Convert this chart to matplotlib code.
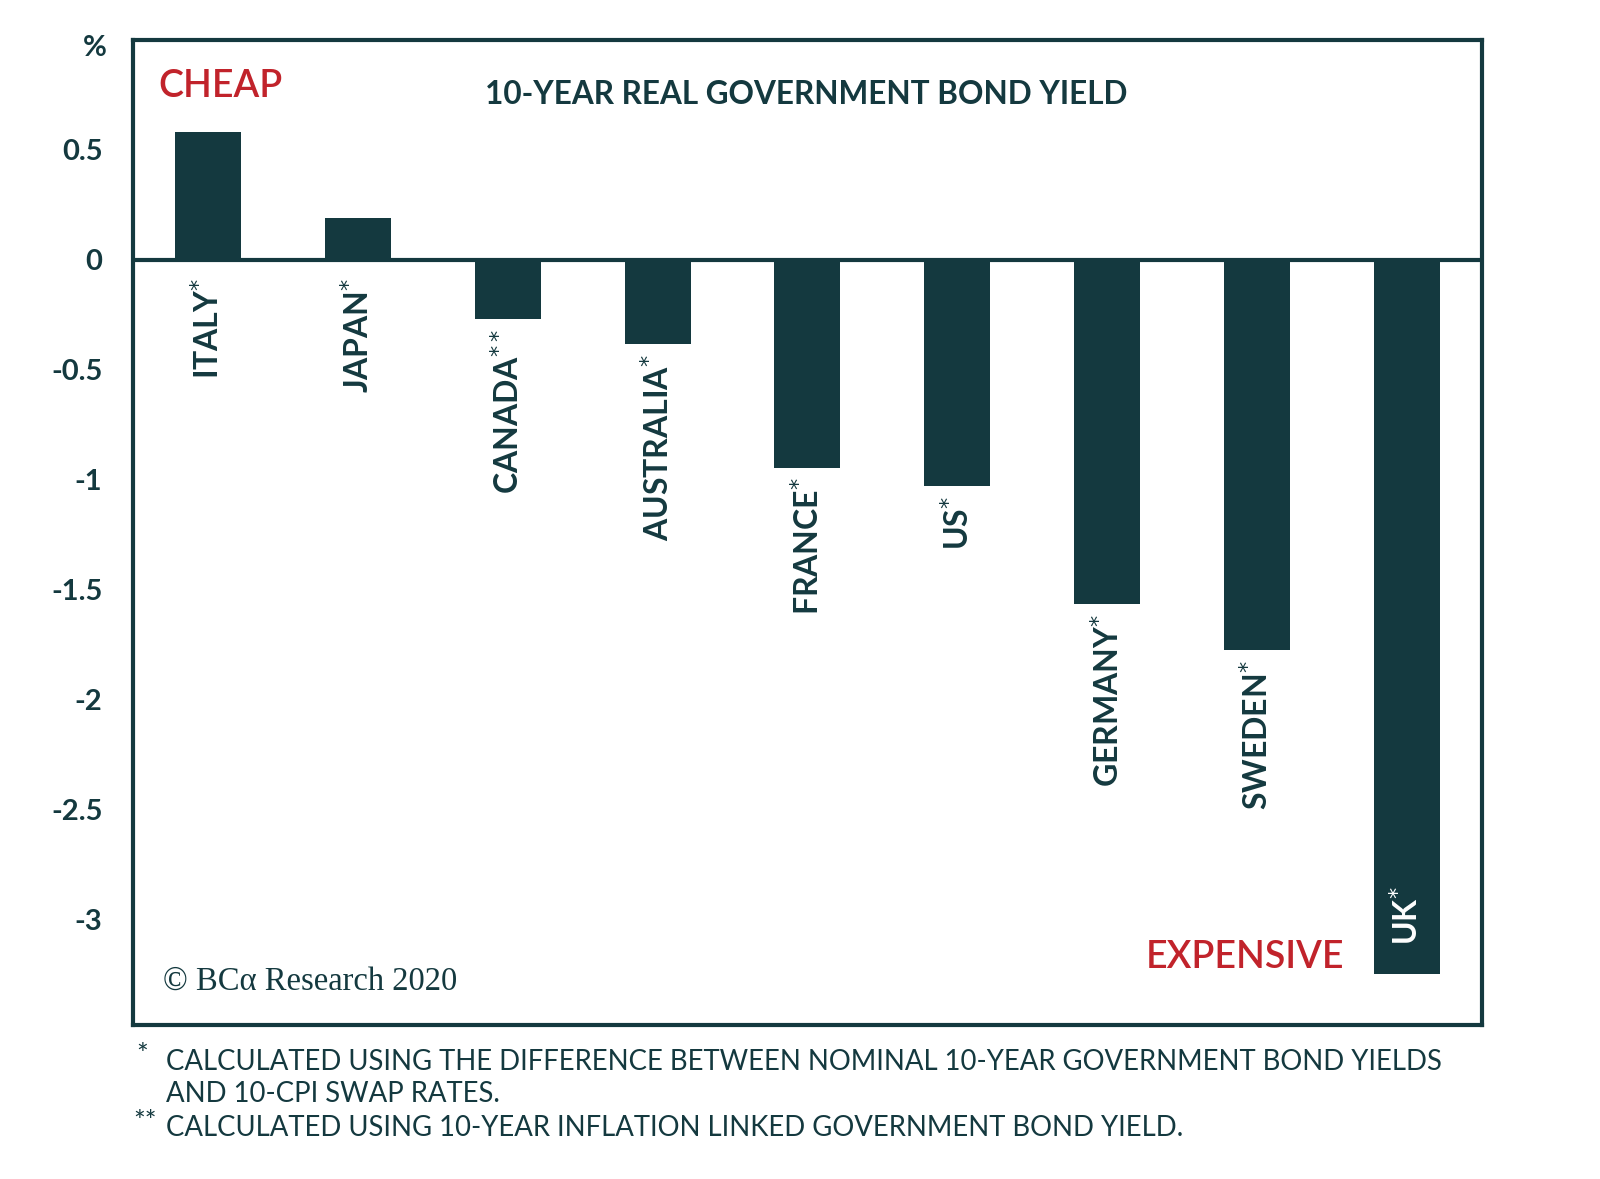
import matplotlib
matplotlib.use("Agg")
import matplotlib.pyplot as plt

# data
countries = ["ITALY", "JAPAN", "CANADA", "AUSTRALIA", "FRANCE", "US", "GERMANY", "SWEDEN", "UK"]
marks = ["*", "*", "**", "*", "*", "*", "*", "*", "*"]
yields = [0.58, 0.19, -0.27, -0.385, -0.945, -1.03, -1.565, -1.775, -3.25]
yticks = [0.5, 0, -0.5, -1, -1.5, -2, -2.5, -3]
ytick_labels = ["0.5", "0", "-0.5", "-1", "-1.5", "-2", "-2.5", "-3"]

TEAL = "#14393f"
RED = "#c1232b"

plt.rcParams["font.family"] = ["Lato", "DejaVu Sans"]

fig = plt.figure(figsize=(16, 11.79), dpi=100)
ax = fig.add_axes([0.0831, 0.1306, 0.8431, 0.8355])

x = range(len(countries))
ax.bar(x, yields, width=0.44, color=TEAL, zorder=2)
ax.axhline(0, color=TEAL, lw=3, zorder=3)

ax.set_xlim(-0.5, 8.5)
ax.set_ylim(-3.48, 1.0)
ax.set_xticks([])
ax.set_yticks(yticks)
ax.set_yticklabels(ytick_labels, fontsize=21, fontweight="bold", color=TEAL)
ax.tick_params(axis="y", length=0, pad=22)
for s in ax.spines.values():
    s.set_color(TEAL)
    s.set_linewidth(3)

# country labels, rotated
for i, (c, m, v) in enumerate(zip(countries, marks, yields)):
    txt = c + "$^{" + m + "}$"
    if c == "UK":
        ax.annotate(txt, (i, v), xytext=(0, 21), textcoords="offset points",
                    rotation=90, ha="center", va="bottom", fontsize=23,
                    fontweight="bold", color="white", zorder=4)
    else:
        base = min(v, 0)
        off = -13 if v > 0 else -7
        ax.annotate(txt, (i, base), xytext=(0, off), textcoords="offset points",
                    rotation=90, ha="center", va="top", fontsize=23,
                    fontweight="bold", color=TEAL, zorder=4)

fig.text(0.504, 0.9196, "10-YEAR REAL GOVERNMENT BOND YIELD", ha="center", va="center",
         fontsize=22.7, fontweight="bold", color=TEAL)
fig.text(0.099, 0.9265, "CHEAP", ha="left", va="center",
         fontsize=27, color=RED, fontweight="semibold")
fig.text(0.840, 0.1877, "EXPENSIVE", ha="right", va="center",
         fontsize=27, color=RED, fontweight="semibold")
fig.text(0.102, 0.1678, "© BCα Research 2020", ha="left", va="center", fontsize=23.5,
         color=TEAL, family=["Liberation Serif", "DejaVu Serif"])

fig.text(0.0593, 0.9593, "%", ha="center", va="center", fontsize=21,
         fontweight="bold", color=TEAL)

# footnotes
fn = dict(fontsize=19.8, color=TEAL, ha="left", va="center")
fig.text(0.085, 0.104, "*", **fn)
fig.text(0.104, 0.0995, "CALCULATED USING THE DIFFERENCE BETWEEN NOMINAL 10-YEAR GOVERNMENT BOND YIELDS", **fn)
fig.text(0.104, 0.0718, "AND 10-CPI SWAP RATES.", **fn)
fig.text(0.083, 0.0476, "**", **fn)
fig.text(0.104, 0.0433, "CALCULATED USING 10-YEAR INFLATION LINKED GOVERNMENT BOND YIELD.", **fn)

fig.savefig("out.png", dpi=100, facecolor="white")
